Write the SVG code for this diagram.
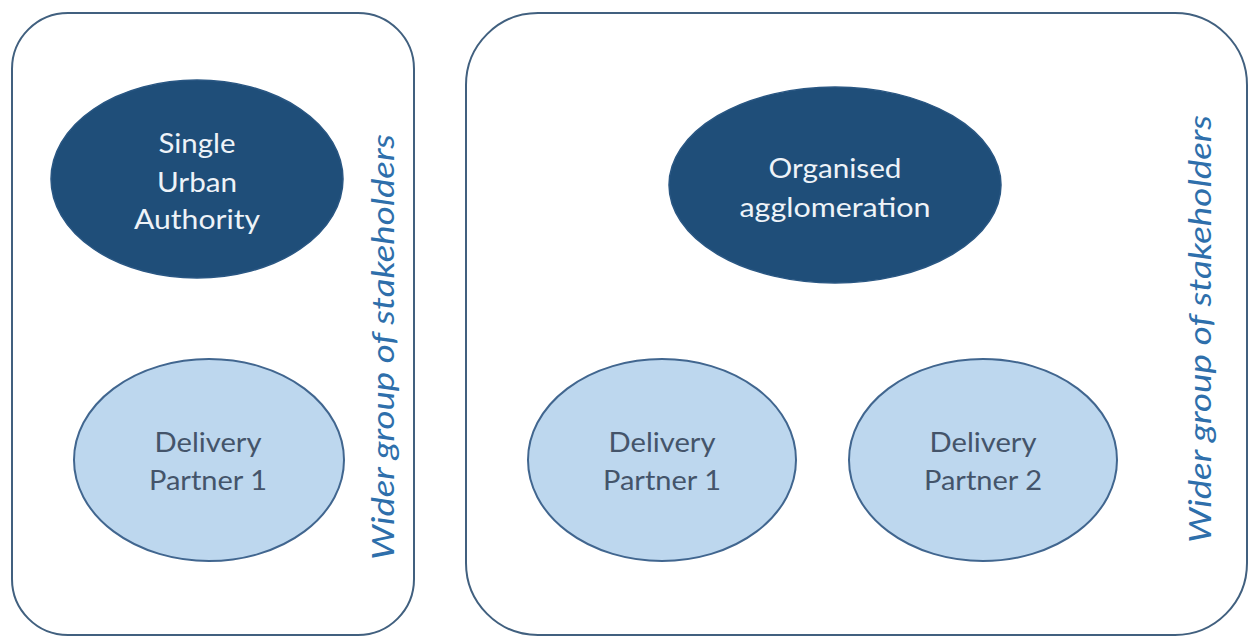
<svg xmlns="http://www.w3.org/2000/svg" width="1250" height="639" viewBox="0 0 1250 639">
<style>
.box{fill:#ffffff;stroke:#41607f;stroke-width:2}
.dark{fill:#1f4e79;stroke:#2a5783;stroke-width:1.5}
.light{fill:#bdd7ee;stroke:#41668f;stroke-width:2}
.t{font-family:Lato,"Open Sans","Liberation Sans",sans-serif;font-size:26px;text-anchor:middle}
.tw{fill:#eef3f8}
.tg{fill:#44546a}
.side{font-family:Lato,"Open Sans","Liberation Sans",sans-serif;font-style:italic;font-size:30px;fill:#2e6fab;text-anchor:middle}
</style>
<rect width="1250" height="639" fill="#ffffff"/>
<g id="group-single">
<rect class="box" x="12" y="13" width="402" height="622" rx="56" ry="56"/>
<text class="side" x="394" y="347" transform="rotate(-90 394 347)" textLength="426" lengthAdjust="spacingAndGlyphs">Wider group of stakeholders</text>
</g>
<g id="group-agglomeration">
<rect class="box" x="466" y="13" width="781" height="622" rx="72" ry="72"/>
<text class="side" x="1211" y="329" transform="rotate(-90 1211 329)" textLength="428" lengthAdjust="spacingAndGlyphs">Wider group of stakeholders</text>
</g>
<g id="node-sua">
<ellipse class="dark" cx="197" cy="179" rx="146" ry="99"/>
<text class="t tw" x="197" y="153" textLength="77" lengthAdjust="spacingAndGlyphs">Single</text>
<text class="t tw" x="197" y="192" textLength="80" lengthAdjust="spacingAndGlyphs">Urban</text>
<text class="t tw" x="197" y="229" textLength="126" lengthAdjust="spacingAndGlyphs">Authority</text>
</g>
<g id="node-dp1-left">
<ellipse class="light" cx="209" cy="460" rx="135" ry="101"/>
<text class="t tg" x="208" y="452" textLength="107" lengthAdjust="spacingAndGlyphs">Delivery</text>
<text class="t tg" x="208" y="490" textLength="118" lengthAdjust="spacingAndGlyphs">Partner 1</text>
</g>
<g id="node-organised">
<ellipse class="dark" cx="835" cy="185" rx="166" ry="98"/>
<text class="t tw" x="835" y="178" textLength="133" lengthAdjust="spacingAndGlyphs">Organised</text>
<text class="t tw" x="835" y="217" textLength="191" lengthAdjust="spacingAndGlyphs">agglomeration</text>
</g>
<g id="node-dp1-right">
<ellipse class="light" cx="662" cy="460" rx="134" ry="101"/>
<text class="t tg" x="662" y="452" textLength="107" lengthAdjust="spacingAndGlyphs">Delivery</text>
<text class="t tg" x="662" y="490" textLength="118" lengthAdjust="spacingAndGlyphs">Partner 1</text>
</g>
<g id="node-dp2">
<ellipse class="light" cx="983" cy="460" rx="134" ry="101"/>
<text class="t tg" x="983" y="452" textLength="107" lengthAdjust="spacingAndGlyphs">Delivery</text>
<text class="t tg" x="983" y="490" textLength="118" lengthAdjust="spacingAndGlyphs">Partner 2</text>
</g>
<g id="connectors"/>
</svg>
